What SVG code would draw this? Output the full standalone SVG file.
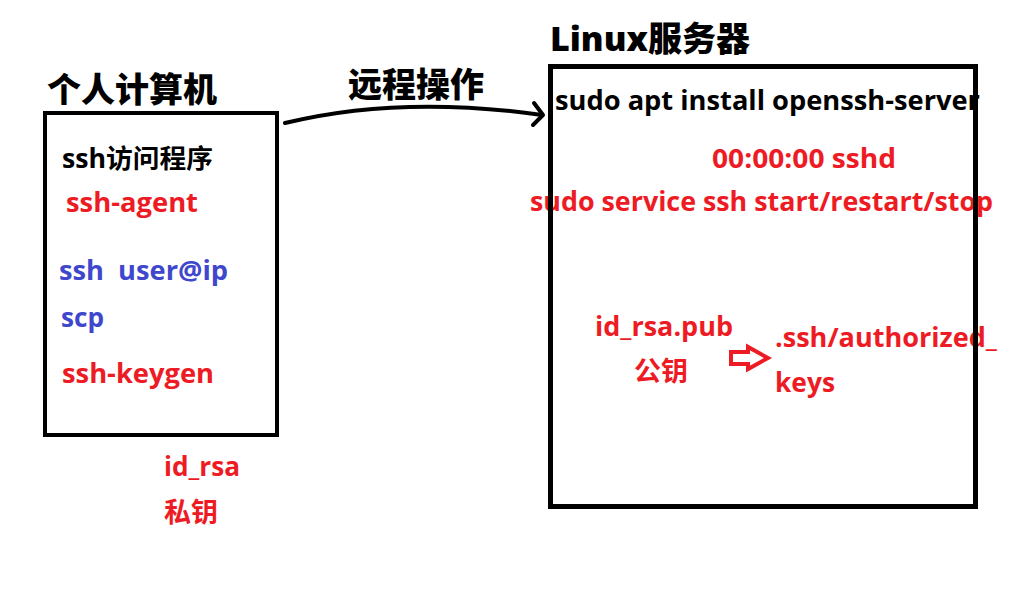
<svg xmlns="http://www.w3.org/2000/svg" width="1018" height="604" viewBox="0 0 1018 604">
<style>
text{font-family:"Open Sans","Noto Sans CJK SC",sans-serif;font-weight:bold}
.t{font-size:34px;fill:#000;font-weight:900}
.m{font-size:26px}
.k{fill:#000}
.r{fill:#ED1C24}
.b{fill:#3F48CC}
.cj{font-family:"Noto Sans CJK SC",sans-serif;font-size:27px;fill:#ED1C24}
.box{fill:none;stroke:#000}
.con{fill:none;stroke:#000;stroke-width:4;stroke-linecap:round;stroke-linejoin:round}
</style>
<rect width="1018" height="604" fill="#fff"/>
<g id="pc">
<text class="t" x="47" y="102" font-family="Noto Sans CJK SC">个人计算机</text>
<text class="m k" x="62" y="168" font-size="25" textLength="151" lengthAdjust="spacingAndGlyphs">ssh访问程序</text>
<text class="m r" x="66" y="212" textLength="132" lengthAdjust="spacingAndGlyphs">ssh-agent</text>
<text class="m b" x="59" y="280" xml:space="preserve" textLength="169" lengthAdjust="spacingAndGlyphs">ssh  user@ip</text>
<text class="m b" x="61" y="327" textLength="43" lengthAdjust="spacingAndGlyphs">scp</text>
<text class="m r" x="62" y="383" textLength="152" lengthAdjust="spacingAndGlyphs">ssh-keygen</text>
<rect class="box" x="45" y="113" width="232" height="322" stroke-width="4"/>
</g>
<g id="private-key">
<text class="m r" x="164" y="476" textLength="76" lengthAdjust="spacingAndGlyphs">id_rsa</text>
<text class="cj" x="164" y="522">私钥</text>
</g>
<g id="server">
<text class="t" x="550" y="51" textLength="200" lengthAdjust="spacingAndGlyphs">Linux服务器</text>
<text class="m k" x="555" y="110" textLength="425" lengthAdjust="spacingAndGlyphs">sudo apt install openssh-server</text>
<text class="m r" x="712" y="168" textLength="184" lengthAdjust="spacingAndGlyphs">00:00:00 sshd</text>
<text class="m r" x="530" y="211" textLength="463" lengthAdjust="spacingAndGlyphs">sudo service ssh start/restart/stop</text>
<text class="m r" x="595" y="336" textLength="138" lengthAdjust="spacingAndGlyphs">id_rsa.pub</text>
<text class="cj" x="634" y="381">公钥</text>
<text class="m r" x="775" y="347" textLength="222" lengthAdjust="spacingAndGlyphs">.ssh/authorized_</text>
<text class="m r" x="775" y="392" textLength="60" lengthAdjust="spacingAndGlyphs">keys</text>
<rect class="box" x="550.5" y="66.5" width="425" height="440" stroke-width="5"/>
</g>
<g id="connectors">
<text class="t" x="348" y="97" font-family="Noto Sans CJK SC">远程操作</text>
<path class="con" d="M285 123 Q400 95 542 115"/>
<path class="con" d="M534 103 L543 115 L533 125"/>
<polygon points="731,352 748,352 748,347 768,358 748,369 748,364 731,364" fill="none" stroke="#ED1C24" stroke-width="4"/>
</g>
</svg>
